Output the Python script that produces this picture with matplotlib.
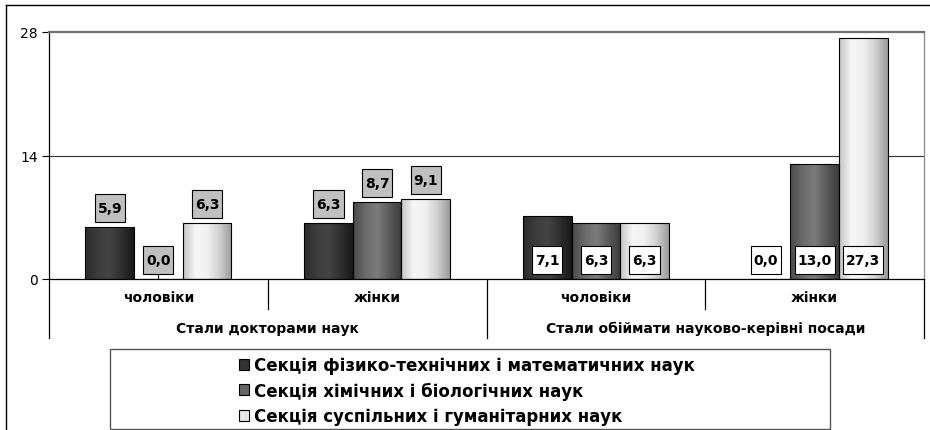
"""
Grouped bar chart: share of new doctors / heads by section and gender
"""
import matplotlib
matplotlib.use("Agg")
import matplotlib.pyplot as plt
import numpy as np
from matplotlib.colors import LinearSegmentedColormap
from matplotlib.lines import Line2D
from matplotlib.patches import Patch, Rectangle
from matplotlib.path import Path

plt.rcParams['font.family'] = ['DejaVu Sans']

groups = ["чоловіки", "жінки", "чоловіки", "жінки"]
supergroups = ["Стали докторами наук", "Стали обіймати науково-керівні посади"]
series_names = [
    "Секція фізико-технічних і математичних наук",
    "Секція хімічних і біологічних наук",
    "Секція суспільних і гуманітарних наук",
]
phys_math = [5.9, 6.3, 7.1, 0.0]
chem_bio = [0.0, 8.7, 6.3, 13.0]
social_hum = [6.3, 9.1, 6.3, 27.3]
y_ticks = [0, 14, 28]

# left -> right grey stops for the cylinder-like shading
gradients = [
    ["#2c2c2c", "#3c3c3c", "#444444", "#303030", "#181818"],
    ["#4a4a4a", "#6a6a6a", "#7c7c7c", "#5a5a5a", "#3c3c3c"],
    ["#c4c4c4", "#f6f6f6", "#f0f0f0", "#d0d0d0", "#9c9c9c"],
]
legend_colors = ["#333333", "#666666", "#e6e6e6"]


def label_box(x0, y0, width, height, mutation_size):
    """Square box, narrow at the sides and tall (like Excel data labels)."""
    px = 0.2 * mutation_size
    py = 0.5 * mutation_size
    x0, y0 = x0 - px, y0 - py
    x1, y1 = x0 + width + 2 * px, y0 + height + 2 * py
    return Path([(x0, y0), (x1, y0), (x1, y1), (x0, y1), (x0, y0)],
                closed=True)


W, H = 930, 431
fig = plt.figure(figsize=(9.3, 4.31), dpi=100)
ax = fig.add_axes([49 / W, 1 - 280 / H, (924 - 49) / W, (280 - 33) / H])

x = np.arange(len(groups))
bar_w = 1 / 4.5
values = [phys_math, chem_bio, social_hum]

for i, vals in enumerate(values):
    pos = x + (i - 1) * bar_w
    bars = ax.bar(pos, vals, bar_w, color="none", edgecolor="black",
                  linewidth=0.8, zorder=3)
    cmap = LinearSegmentedColormap.from_list(f"g{i}", gradients[i])
    grad = np.linspace(0, 1, 64)[np.newaxis, :]
    for rect in bars:
        h = rect.get_height()
        if h <= 0:
            continue
        x0 = rect.get_x()
        img = ax.imshow(grad, extent=(x0, x0 + bar_w, 0, h), cmap=cmap,
                        aspect="auto", zorder=2, interpolation="bilinear")
        img.set_clip_path(rect)

    for j, (xp, v) in enumerate(zip(pos, vals)):
        txt = f"{v:.1f}".replace(".", ",")
        if j < 2:
            ax.annotate(txt, (xp, v), xytext=(0, 19), textcoords="offset pixels",
                        ha="center", va="center", fontsize=10, fontweight="bold",
                        zorder=5,
                        bbox=dict(boxstyle=label_box, fc="#c0c0c0",
                                  ec="black", lw=0.8))
        else:
            ax.text(xp, 2.2, txt, ha="center", va="center", fontsize=10,
                    fontweight="bold", zorder=5,
                    bbox=dict(boxstyle=label_box, fc="white",
                              ec="black", lw=0.8))

ax.set_xlim(-0.5, 3.5)
ax.set_ylim(0, 28)
ax.set_yticks(y_ticks)
ax.set_yticklabels([str(t) for t in y_ticks], fontsize=10)
ax.tick_params(axis="y", length=5, width=0.8, direction="out", pad=3)
ax.set_xticks(x)
ax.set_xticklabels([])
ax.tick_params(axis="x", length=4, width=0.8, direction="in")

ax.axhline(14, color="#303030", lw=0.8, zorder=1)
ax.spines["top"].set_color("#707070")
ax.spines["top"].set_linewidth(1.6)
ax.spines["right"].set_color("#909090")
ax.spines["right"].set_linewidth(1.0)
ax.spines["left"].set_linewidth(0.9)
ax.spines["bottom"].set_linewidth(0.9)

# two-level category axis
trans = ax.get_xaxis_transform()
short_y = -(310 - 280) / 247
long_y = -(339 - 280) / 247
for b in np.arange(-0.5, 4, 1.0):
    low = long_y if b in (-0.5, 1.5, 3.5) else short_y
    ax.plot([b, b], [0, low], color="black", lw=0.9, transform=trans,
            clip_on=False)
for xi, name in zip(x, groups):
    ax.text(xi, -(298 - 280) / 247, name, transform=trans, ha="center",
            va="center", fontsize=10, fontweight="bold")
for k, name in enumerate(supergroups):
    ax.text(0.5 + 2 * k, -(329 - 280) / 247, name, transform=trans,
            ha="center", va="center", fontsize=10, fontweight="bold")

# legend with its own frame
fig.add_artist(Rectangle((110 / W, 1 - 430 / H), 720 / W, 80 / H,
                         transform=fig.transFigure, fc="white",
                         ec="#555555", lw=1.0))
handles = [Patch(fc=c, ec="black", lw=0.8) for c in legend_colors]
fig.legend(handles, series_names, loc="upper left",
           bbox_to_anchor=(239 / W, 1 - 357 / H), frameon=False,
           prop=dict(size=12, weight="bold"), handlelength=0.62,
           handleheight=0.62, handletextpad=0.3, labelspacing=0.45,
           borderpad=0, borderaxespad=0)

# outer chart border
fig.add_artist(Line2D([5.5 / W, 5.5 / W], [0, 1 - 6 / H], color="black",
                      lw=1.0, transform=fig.transFigure))
fig.add_artist(Line2D([5.5 / W, 1], [1 - 6 / H, 1 - 6 / H], color="black",
                      lw=1.0, transform=fig.transFigure))

fig.savefig("out.png", dpi=100)
